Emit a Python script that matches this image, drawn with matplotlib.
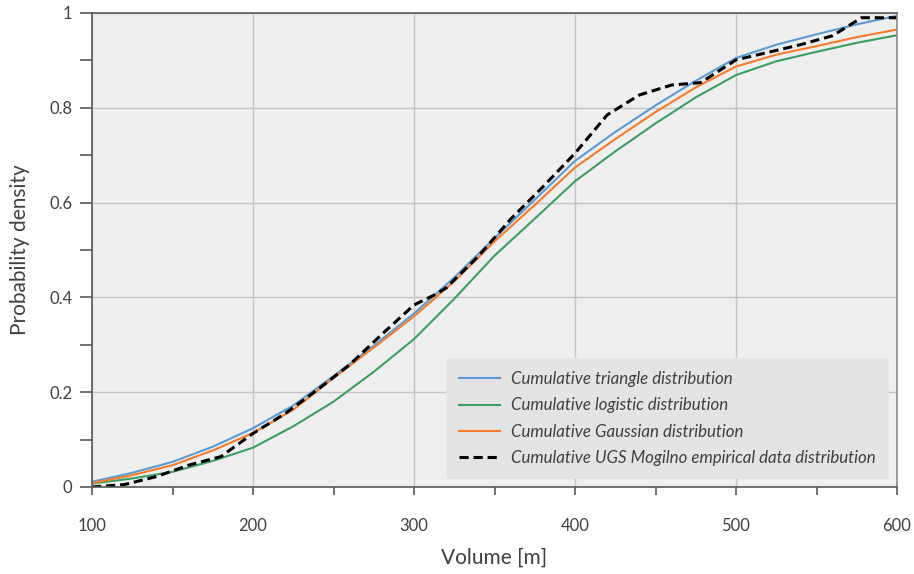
import matplotlib
matplotlib.use("Agg")
import matplotlib.pyplot as plt
from matplotlib.ticker import MultipleLocator, FuncFormatter

plt.rcParams["font.family"] = ["Lato", "DejaVu Sans"]

# smooth distribution curves, every 25 m
volume = [100, 125, 150, 175, 200, 225, 250, 275, 300, 325, 350, 375,
          400, 425, 450, 475, 500, 525, 550, 575, 600]
triangle = [0.011, 0.030, 0.053, 0.085, 0.124, 0.172, 0.234, 0.298, 0.366,
            0.442, 0.525, 0.606, 0.688, 0.749, 0.805, 0.857, 0.905, 0.933,
            0.955, 0.976, 0.994]
logistic = [0.007, 0.018, 0.032, 0.055, 0.083, 0.128, 0.180, 0.243, 0.312,
            0.397, 0.488, 0.566, 0.645, 0.708, 0.767, 0.822, 0.869, 0.898,
            0.918, 0.937, 0.953]
gaussian = [0.008, 0.025, 0.046, 0.077, 0.114, 0.163, 0.230, 0.294, 0.360,
            0.434, 0.518, 0.595, 0.674, 0.734, 0.791, 0.843, 0.887, 0.912,
            0.930, 0.949, 0.965]

# empirical data (piecewise)
emp_volume = [100, 120, 140, 160, 180, 200, 220, 240, 260, 280, 300, 312,
              320, 340, 360, 380, 400, 420, 440, 460, 478, 500, 520, 540,
              560, 578, 600]
emp_prob = [0.0, 0.005, 0.022, 0.046, 0.064, 0.113, 0.155, 0.205, 0.258,
            0.322, 0.384, 0.404, 0.420, 0.487, 0.565, 0.633, 0.704, 0.785,
            0.827, 0.848, 0.853, 0.901, 0.917, 0.933, 0.952, 0.990, 0.990]

fig = plt.figure(figsize=(9.14, 5.74), dpi=100)
ax = fig.add_axes([0.1007, 0.1516, 0.8807, 0.8258])
ax.set_facecolor("#efefef")

ax.plot(volume, triangle, color="#5b9bd5", lw=1.5, label="Cumulative triangle distribution")
ax.plot(volume, logistic, color="#3d9e62", lw=1.5, label="Cumulative logistic distribution")
ax.plot(volume, gaussian, color="#f97a2b", lw=1.5, label="Cumulative Gaussian distribution")
ax.plot(emp_volume, emp_prob, color="black", lw=2.2, ls=(0, (3, 1.6)),
        label="Cumulative UGS Mogilno empirical data distribution")

ax.set_xlim(100, 600)
ax.set_ylim(0, 1)
ax.xaxis.set_major_locator(MultipleLocator(100))
ax.xaxis.set_minor_locator(MultipleLocator(50))
ax.yaxis.set_major_locator(MultipleLocator(0.2))
ax.yaxis.set_minor_locator(MultipleLocator(0.1))
ax.yaxis.set_major_formatter(FuncFormatter(lambda v, p: "%g" % round(v, 2)))

ax.grid(which="major", color="#c4c4c4", lw=1)
ax.set_axisbelow(True)
for s in ax.spines.values():
    s.set_color("#595959")
    s.set_linewidth(1.2)
ax.spines["right"].set_color("#8c8c8c")

ax.tick_params(axis="y", which="both", direction="out", length=9, width=1.2,
               color="#595959", labelsize=12, labelcolor="#404040", pad=5)
ax.tick_params(axis="x", which="both", direction="out", length=6, width=1.2,
               color="#595959", labelsize=12, labelcolor="#404040", pad=16)

ax.set_xlabel("Volume [m]", fontsize=15, color="#404040", labelpad=10)
ax.set_ylabel("Probability density", fontsize=15, color="#404040", labelpad=14)

leg = ax.legend(loc="lower right", fontsize=12.2, frameon=True, fancybox=True,
                borderaxespad=0.45, handlelength=2.4, handletextpad=0.65,
                labelspacing=0.6, borderpad=0.8)
leg.get_frame().set_facecolor("#e4e4e4")
leg.get_frame().set_edgecolor("none")
leg.get_frame().set_alpha(1)
for t in leg.get_texts():
    t.set_fontstyle("italic")
    t.set_color("#404040")

fig.savefig("out.png", dpi=100)
